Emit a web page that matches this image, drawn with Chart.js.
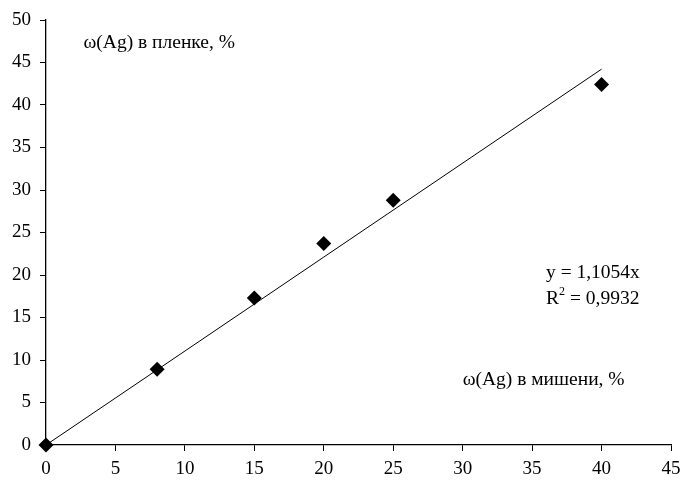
<!DOCTYPE html>
<html>
<head>
<meta charset="utf-8">
<script src="https://cdn.jsdelivr.net/npm/chart.js@4/dist/chart.umd.min.js"></script>
<style>
  html, body { margin: 0; padding: 0; background: #fff; }
  #wrap { width: 681px; height: 483px; }
</style>
</head>
<body>
<div id="wrap"><canvas id="chart"></canvas></div>
<script>
// data
var targetAg = [0, 8, 15, 20, 25, 40];       // ω(Ag) в мишени, %
var filmAg = [0, 8.9, 17.3, 23.7, 28.8, 42.4]; // ω(Ag) в пленке, %
var trendSlope = 1.1054;
var trendX = [0, 40];
var xTicks = [0, 5, 10, 15, 20, 25, 30, 35, 40, 45];
var yTicks = [0, 5, 10, 15, 20, 25, 30, 35, 40, 45, 50];

var FONT = "'Liberation Serif', 'Times New Roman', serif";

var points = targetAg.map(function (x, i) { return { x: x, y: filmAg[i] }; });
var trend = trendX.map(function (x) { return { x: x, y: trendSlope * x }; });

// text labels placed in data units
var notes = [
  { text: "ω(Ag) в пленке, %", x: 2.7, y: 47.3 },
  { text: "y = 1,1054x", x: 36.0, y: 20.3 },
  { text: "R", sup: "2", rest: " = 0,9932", x: 36.0, y: 17.2 },
  { text: "ω(Ag) в мишени, %", x: 30.0, y: 7.7 }
];

var notesPlugin = {
  id: "notes",
  afterDraw: function (chart) {
    var ctx = chart.ctx;
    var xs = chart.scales.x, ys = chart.scales.y;
    ctx.save();
    ctx.fillStyle = "#000";
    ctx.textBaseline = "middle";
    ctx.textAlign = "left";
    notes.forEach(function (n) {
      var px = xs.getPixelForValue(n.x);
      var py = ys.getPixelForValue(n.y);
      ctx.font = "19.5px " + FONT;
      ctx.fillText(n.text, px, py);
      if (n.sup) {
        var w = ctx.measureText(n.text).width;
        ctx.font = "12px " + FONT;
        ctx.fillText(n.sup, px + w, py - 7);
        var w2 = ctx.measureText(n.sup).width;
        ctx.font = "19.5px " + FONT;
        ctx.fillText(n.rest, px + w + w2, py);
      }
    });
    ctx.restore();
  }
};

new Chart(document.getElementById("chart").getContext("2d"), {
  type: "scatter",
  data: {
    datasets: [
      {
        label: "trend",
        type: "line",
        data: trend,
        borderColor: "#000",
        borderWidth: 1,
        pointRadius: 0,
        fill: false
      },
      {
        label: "points",
        data: points,
        clip: false,
        pointStyle: "rectRot",
        pointRadius: 7.5,
        backgroundColor: "#000",
        borderColor: "#000",
        borderWidth: 0
      }
    ]
  },
  options: {
    responsive: true,
    maintainAspectRatio: false,
    animation: false,
    layout: { padding: { top: 20, right: 10, left: 0, bottom: 0 } },
    plugins: {
      legend: { display: false },
      tooltip: { enabled: false }
    },
    scales: {
      x: {
        type: "linear",
        min: 0,
        max: 45,
        afterBuildTicks: function (s) { s.ticks = xTicks.map(function (v) { return { value: v }; }); },
        afterFit: function (s) { s.height = 38; s.paddingLeft = 0; s.paddingRight = 0; },
        border: { color: "#000", width: 1.3 },
        grid: { drawOnChartArea: false, drawTicks: true, tickLength: 6, color: "#000" },
        ticks: { color: "#000", font: { family: FONT, size: 19 }, padding: 7, maxRotation: 0 }
      },
      y: {
        type: "linear",
        min: 0,
        max: 50,
        afterBuildTicks: function (s) { s.ticks = yTicks.map(function (v) { return { value: v }; }); },
        afterFit: function (s) { s.width = 46; s.paddingTop = 0; s.paddingBottom = 0; },
        border: { color: "#000", width: 1.3 },
        grid: { drawOnChartArea: false, drawTicks: true, tickLength: 6, color: "#000" },
        ticks: { color: "#000", font: { family: FONT, size: 19 }, padding: 9 }
      }
    }
  },
  plugins: [notesPlugin]
});
</script>
</body>
</html>
